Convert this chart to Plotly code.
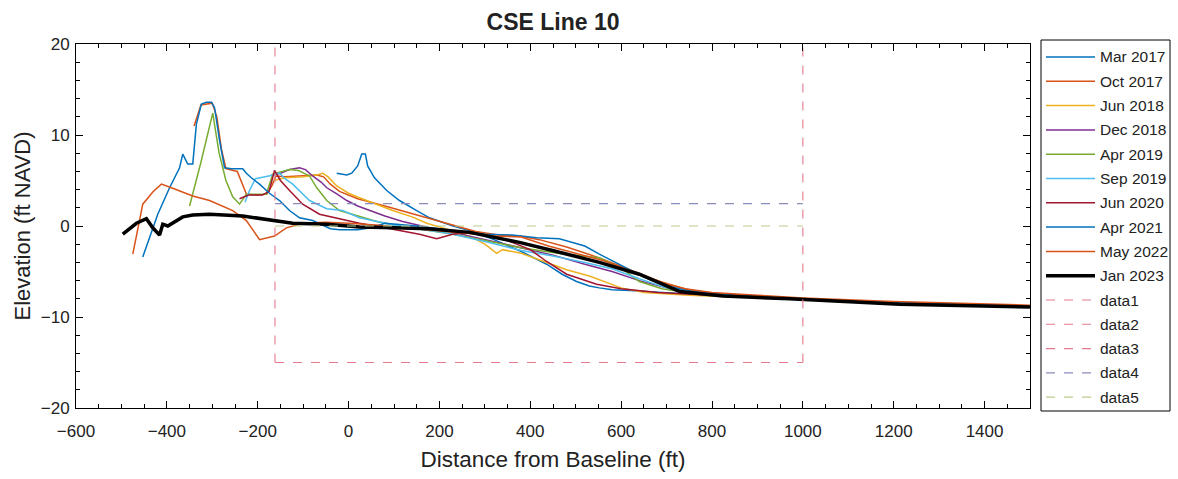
import plotly.graph_objects as go

# Survey profiles: distance from baseline (ft) and elevation (ft NAVD)
mar2017_x = [-26, -4, 7, 20, 29, 37, 42, 57, 84, 112, 150, 178, 230, 266, 320, 380, 436, 470, 502, 530, 552, 580, 620, 680, 750, 850, 1000, 1200, 1500]
mar2017_y = [5.8, 5.6, 5.8, 6.6, 7.9, 7.9, 6.6, 5.3, 3.9, 2.8, 1.7, 0.9, 0.0, -0.5, -1.5, -2.8, -4.2, -5.3, -6.1, -6.6, -6.8, -7.0, -7.1, -7.3, -7.5, -7.8, -8.0, -8.4, -8.8]

oct2017_x = [-340, -325, -300, -290, -280, -270, -245, -230, -225, -200, -180, -168, -160, -140, -100, -70, -55, -40, -20, 20, 80, 150, 220, 280, 330, 376, 420, 480, 552, 600, 650, 700, 750, 800, 900, 1000, 1200, 1500]
oct2017_y = [11.0, 13.3, 13.5, 12.0, 8.5, 6.3, 6.0, 4.0, 3.5, 3.4, 3.5, 4.5, 5.5, 5.4, 5.5, 5.6, 5.4, 4.6, 3.8, 3.0, 2.2, 1.2, 0.2, -0.6, -1.0, -1.1, -1.5, -2.3, -3.5, -4.4, -5.4, -6.4, -7.0, -7.4, -7.7, -8.0, -8.4, -8.8]

jun2018_x = [-165, -140, -100, -70, -57, -45, -26, 0, 24, 60, 97, 140, 172, 220, 270, 300, 326, 339, 380, 430, 480, 530, 600, 650, 750, 850, 1000, 1200, 1500]
jun2018_y = [5.0, 5.3, 5.4, 5.6, 5.8, 5.4, 4.4, 3.6, 3.1, 2.4, 1.7, 1.0, 0.3, -0.4, -1.2, -2.0, -3.0, -2.6, -3.0, -3.9, -4.8, -5.5, -6.8, -7.3, -7.6, -7.8, -8.0, -8.4, -8.8]

dec2018_x = [-170, -150, -130, -108, -95, -79, -60, -48, -25, -4, 20, 46, 80, 119, 178, 230, 300, 380, 450, 520, 580, 640, 700, 760, 850, 1000, 1200, 1500]
dec2018_y = [5.6, 5.8, 6.2, 6.4, 6.2, 5.5, 4.8, 4.2, 3.5, 2.8, 2.2, 1.7, 1.1, 0.5, -0.2, -0.7, -1.5, -2.4, -3.2, -4.2, -5.0, -6.0, -6.8, -7.3, -7.7, -8.0, -8.4, -8.8]

apr2019_x = [-350, -325, -299, -285, -270, -255, -240, -225, -200, -181, -167, -150, -130, -110, -86, -70, -48, -20, 24, 62, 100, 160, 230, 300, 380, 460, 552, 600, 640, 690, 729, 800, 900, 1000, 1200, 1500]
apr2019_y = [2.2, 7.0, 12.4, 8.0, 5.0, 3.2, 2.4, 3.5, 3.5, 3.5, 5.7, 5.9, 6.2, 6.1, 5.5, 4.2, 2.8, 1.7, 1.1, 0.5, 0.1, -0.4, -0.9, -1.6, -2.4, -3.0, -3.5, -4.6, -6.1, -6.9, -7.2, -7.6, -7.8, -8.0, -8.4, -8.8]

sep2019_x = [-228, -218, -205, -180, -165, -152, -140, -123, -101, -86, -48, -13, 24, 60, 100, 150, 220, 300, 380, 450, 520, 580, 640, 700, 760, 850, 1000, 1200, 1500]
sep2019_y = [2.6, 3.9, 5.2, 5.4, 5.6, 5.8, 5.2, 4.6, 3.5, 2.8, 1.9, 1.7, 0.9, 0.5, 0.1, -0.3, -0.8, -1.7, -2.7, -3.3, -4.0, -4.7, -5.8, -6.8, -7.3, -7.7, -8.0, -8.4, -8.8]

jun2020_x = [-240, -220, -190, -175, -163, -150, -130, -101, -64, -26, 24, 80, 120, 156, 194, 229, 270, 330, 400, 436, 480, 546, 600, 680, 800, 1000, 1200, 1500]
jun2020_y = [3.0, 3.4, 3.4, 3.8, 6.1, 5.0, 3.9, 2.4, 1.3, 0.9, 0.3, -0.2, -0.6, -0.9, -1.4, -0.9, -0.7, -1.2, -2.6, -3.9, -5.3, -6.4, -6.9, -7.3, -7.6, -8.0, -8.4, -8.8]

apr2021_x = [-453, -420, -394, -372, -365, -354, -343, -335, -324, -313, -302, -295, -284, -273, -258, -233, -225, -214, -196, -174, -152, -130, -108, -79, -40, -20, 20, 50, 80, 150, 230, 300, 360, 414, 464, 520, 552, 600, 650, 700, 760, 850, 1000, 1200, 1500]
apr2021_y = [-3.4, 1.3, 4.2, 6.4, 7.9, 6.8, 6.8, 11.2, 13.4, 13.6, 13.6, 13.0, 9.4, 6.4, 6.3, 6.3, 5.8, 5.3, 4.6, 3.6, 2.8, 1.7, 0.9, 0.6, -0.3, -0.4, -0.4, -0.2, 0.3, 0.0, -0.5, -0.9, -1.0, -1.3, -1.4, -2.2, -3.1, -4.3, -5.6, -6.6, -7.2, -7.6, -8.0, -8.4, -8.8]

may2022_x = [-475, -453, -430, -412, -390, -343, -306, -255, -225, -196, -163, -137, -100, -50, 0, 60, 120, 200, 260, 320, 380, 440, 500, 560, 620, 680, 740, 800, 900, 1000, 1200, 1500]
may2022_y = [-3.1, 2.4, 3.8, 4.6, 4.2, 3.3, 2.8, 1.7, 0.6, -1.5, -1.1, -0.2, 0.3, 0.4, 0.3, 0.1, -0.2, -0.5, -0.8, -1.1, -1.2, -2.2, -3.0, -3.8, -4.9, -6.0, -6.9, -7.3, -7.6, -7.9, -8.3, -8.7]

jan2023_x = [-497, -467, -445, -431, -416, -409, -398, -379, -365, -343, -306, -233, -189, -123, -48, 24, 100, 178, 266, 376, 449, 530, 552, 640, 729, 824, 970, 1213, 1492, 1500]
jan2023_y = [-0.9, 0.3, 0.8, -0.2, -1.0, 0.2, 0.0, 0.6, 1.0, 1.2, 1.3, 1.1, 0.8, 0.3, 0.2, -0.1, -0.2, -0.3, -0.7, -1.8, -2.7, -3.7, -4.0, -5.3, -7.2, -7.7, -8.0, -8.6, -8.9, -8.9]

# Reference box and level lines
box_left, box_right, box_bottom, box_top = -162, 1000, -15, 20
level_upper = 2.45
level_zero = 0.0

FONT = "Liberation Sans, Arial, Helvetica, sans-serif"
TEXT = "#222222"
DASH_BOX = "#E57A8C"

# (name, x, y, colour, width, dash)
series = [
    ("Mar 2017", mar2017_x, mar2017_y, "#0072BD", 1.5, "solid"),
    ("Oct 2017", oct2017_x, oct2017_y, "#D95319", 1.5, "solid"),
    ("Jun 2018", jun2018_x, jun2018_y, "#EDB120", 1.5, "solid"),
    ("Dec 2018", dec2018_x, dec2018_y, "#7E2F8E", 1.5, "solid"),
    ("Apr 2019", apr2019_x, apr2019_y, "#77AC30", 1.5, "solid"),
    ("Sep 2019", sep2019_x, sep2019_y, "#4DBEEE", 1.5, "solid"),
    ("Jun 2020", jun2020_x, jun2020_y, "#A2142F", 1.5, "solid"),
    ("Apr 2021", apr2021_x, apr2021_y, "#0072BD", 1.5, "solid"),
    ("May 2022", may2022_x, may2022_y, "#D95319", 1.5, "solid"),
    ("Jan 2023", jan2023_x, jan2023_y, "black", 3.5, "solid"),
    ("data1", [box_left, box_left], [box_bottom, box_top], DASH_BOX, 1.1, "dash"),
    ("data2", [box_left, box_right], [box_bottom, box_bottom], DASH_BOX, 1.1, "dash"),
    ("data3", [box_right, box_right], [box_bottom, box_top], DASH_BOX, 1.1, "dash"),
    ("data4", [box_left, box_right], [level_upper, level_upper], "#8A8CBC", 1.2, "dash"),
    ("data5", [box_left, box_right], [level_zero, level_zero], "#BACB8C", 1.2, "dash"),
]

fig = go.Figure()
for name, xs, ys, color, width, dash in series:
    fig.add_trace(go.Scatter(x=xs, y=ys, mode="lines", name=name, showlegend=False,
                             line=dict(color=color, width=width, dash=dash)))

# Plot-area geometry in pixels (used to place the legend box)
W, H = 1178, 479
ML, MR, MT, MB = 76, 148, 44, 71
PW, PH = W - ML - MR, H - MT - MB


def px_x(p):
    return (p - ML) / PW


def px_y(p):
    return (H - MB - p) / PH


# Legend drawn beside the axes
shapes = [dict(type="rect", xref="paper", yref="paper",
               x0=px_x(1041), x1=px_x(1170), y0=px_y(411), y1=px_y(40),
               line=dict(color="black", width=1), fillcolor="white", layer="above")]
annotations = []
row0, row_step = 57, 24.3
for i, (name, _, _, color, width, dash) in enumerate(series):
    yy = px_y(row0 + i * row_step)
    shapes.append(dict(type="line", xref="paper", yref="paper",
                       x0=px_x(1046), x1=px_x(1095), y0=yy, y1=yy,
                       line=dict(color=color, width=width, dash=dash)))
    annotations.append(dict(xref="paper", yref="paper", x=px_x(1098), y=yy,
                            xanchor="left", yanchor="middle", text=name, showarrow=False,
                            font=dict(family=FONT, size=15.5, color=TEXT)))

axis_common = dict(
    showgrid=False, zeroline=False, showline=True, linecolor="black", linewidth=1,
    mirror="ticks", ticks="inside", ticklen=7, tickcolor="black",
    tickfont=dict(family=FONT, size=17, color=TEXT),
)

fig.update_layout(
    width=W, height=H,
    paper_bgcolor="white", plot_bgcolor="white",
    margin=dict(l=ML, r=MR, t=MT, b=MB),
    title=dict(text="<b>CSE Line 10</b>", x=px_x(553), xanchor="center", xref="paper",
               y=1 - 22 / H, yanchor="middle",
               font=dict(family=FONT, size=23, color=TEXT)),
    xaxis=dict(range=[-600, 1500], dtick=200, tick0=0, ticklabelstandoff=8,
               minor=dict(dtick=50, ticks="inside", ticklen=4, tickcolor="black"),
               title=dict(text="Distance from Baseline (ft)", font=dict(family=FONT, size=22.5, color=TEXT), standoff=10),
               **axis_common),
    yaxis=dict(range=[-20, 20], dtick=10, tick0=0, ticklabelstandoff=2,
               minor=dict(dtick=2, ticks="inside", ticklen=4, tickcolor="black"),
               title=dict(text="Elevation (ft NAVD)", font=dict(family=FONT, size=22, color=TEXT), standoff=4),
               **axis_common),
    shapes=shapes,
    annotations=annotations,
    showlegend=False,
)

fig.write_html("out.html")
